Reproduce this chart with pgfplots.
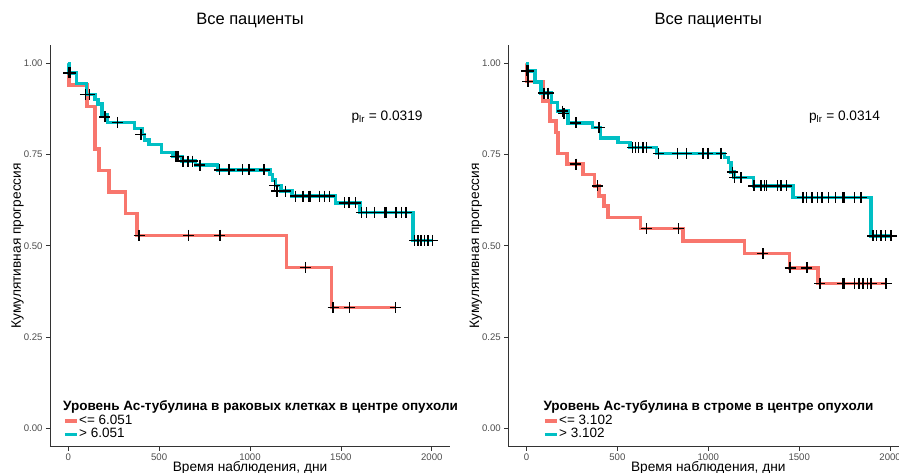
\documentclass[border=0pt]{standalone}
\usepackage{fontspec}
\setmainfont{Liberation Sans}
\usepackage{pgfplots}
\pgfplotsset{compat=1.18}

\definecolor{kmred}{HTML}{F8766D}
\definecolor{kmcyan}{HTML}{00BFC4}
\definecolor{tickgray}{HTML}{4D4D4D}
\definecolor{axgray}{HTML}{333333}

\pgfplotsset{
  km/.style={
    scale only axis, width=400pt, height=401.7pt,
    anchor=south west,
    xmin=-100, xmax=2100, ymin=-0.05, ymax=1.05,
    axis x line*=bottom, axis y line*=left,
    axis line style={axgray, line width=0.8pt, -},
    tick align=outside, major tick length=4pt,
    tick style={axgray, line width=0.8pt},
    xtick={0,500,1000,1500,2000},
    ytick={0,0.25,0.5,0.75,1},
    yticklabels={0.00,0.25,0.50,0.75,1.00},
    /pgf/number format/1000 sep={},
    /pgf/number format/assume math mode=true,
    ticklabel style={font=\fontsize{9.6}{10}\selectfont, text=tickgray},
    every axis title shift=0pt,
    title style={font=\fontsize{16.5}{18}\selectfont, at={(axis description cs:0.5,1.062)}, anchor=center},
    xlabel style={font=\fontsize{13.7}{15}\selectfont, at={(axis description cs:0.5,-0.054)}, anchor=center},
    ylabel style={font=\fontsize{13.7}{15}\selectfont, at={(axis description cs:-0.081,0.5)}, anchor=center},
    legend cell align=left,
    legend image code/.code={\draw[#1, line width=3.6pt] (0pt,0pt) -- (12pt,0pt);},
    clip=false,
  },
  kmline/.style={const plot, line width=3.5pt},
  cens/.style={only marks, mark=+, mark size=5.5pt, black, mark options={line width=1.5pt}, forget plot},
  kmleg/.style={legend style={draw=none, fill=none, inner sep=0pt, outer sep=0pt, row sep=0pt,
    at={(axis description cs:#1,0.082)}, anchor=north west,
    font=\fontsize{13.5}{14}\selectfont,
    nodes={inner sep=0.6pt, text height=9.7pt, text depth=3pt}}},
}

\begin{document}
\begin{tikzpicture}
\path[use as bounding box] (0,0) rectangle (899pt,472pt);
\clip (0,0) rectangle (899pt,472pt);

% left panel: tumour cells
\begin{axis}[km, kmleg=0.0325, at={(50pt,25.3pt)},
  title={Все пациенты},
  xlabel={Время наблюдения, дни},
  ylabel={Кумулятивная прогрессия}]
\addplot[kmline, kmred] coordinates {
 (0,1.0) (5,0.941) (104,0.882) (147,0.765) (169,0.706) (225,0.647)
 (315,0.588) (379,0.529) (1200,0.441) (1447,0.331) (1800,0.331)};
\addlegendentry{<= 6.051}
\addplot[kmline, kmcyan] coordinates {
 (0,1.0) (5,0.974) (46,0.944) (100,0.915) (147,0.901) (165,0.889)
 (185,0.860) (215,0.838) (366,0.822) (405,0.805) (420,0.790) (445,0.778)
 (513,0.755) (577,0.744) (625,0.732) (700,0.721) (820,0.708) (1110,0.695)
 (1125,0.680) (1140,0.665) (1170,0.650) (1230,0.636) (1471,0.618)
 (1604,0.592) (1896,0.515) (2005,0.515)};
\addlegendentry{> 6.051}
\addplot[cens] coordinates {
 (390,0.529) (663,0.529) (834,0.529) (1304,0.441) (1457,0.331) (1548,0.331) (1800,0.331)};
\addplot[cens] coordinates {
 (2,0.974) (8,0.974) (14,0.974) (95,0.915) (117,0.915) (202,0.853) (271,0.838)
 (400,0.805) (592,0.744) (605,0.744) (632,0.732) (659,0.732) (683,0.732)
 (724,0.721) (833,0.708) (885,0.708) (958,0.708) (995,0.708) (1077,0.708)
 (1135,0.665) (1148,0.650) (1195,0.650)
 (1251,0.636) (1291,0.636) (1324,0.636) (1333,0.636) (1383,0.636) (1410,0.636) (1438,0.636)
 (1520,0.618) (1544,0.618) (1581,0.618)
 (1612,0.592) (1640,0.592) (1686,0.592) (1740,0.592) (1749,0.592) (1804,0.592) (1832,0.592) (1859,0.592)
 (1905,0.515) (1923,0.515) (1941,0.515) (1960,0.515) (1978,0.515) (2005,0.515)};
\node[font=\fontsize{13.7}{15}\selectfont] at (axis cs:1754,0.852) {p\textsubscript{lr} = 0.0319};
\end{axis}

% right panel: stroma
\begin{axis}[km, kmleg=0.0868, at={(508.3pt,25.3pt)},
  title={Все пациенты},
  xlabel={Время наблюдения, дни},
  ylabel={Кумулятивная прогрессия}]
\addplot[kmline, kmred] coordinates {
 (0,1.0) (4,0.950) (91,0.897) (128,0.842) (161,0.810) (174,0.753) (223,0.724)
 (311,0.696) (375,0.664) (400,0.636) (425,0.609) (448,0.577) (626,0.547)
 (860,0.513) (1199,0.479) (1447,0.440) (1602,0.397) (1978,0.397)};
\addlegendentry{<= 3.102}
\addplot[kmline, kmcyan] coordinates {
 (0,1.0) (5,0.979) (46,0.949) (80,0.918) (137,0.892) (170,0.869) (229,0.837)
 (362,0.824) (407,0.796) (503,0.783) (568,0.769) (714,0.753) (1090,0.742)
 (1110,0.728) (1125,0.702) (1140,0.687) (1249,0.664) (1465,0.632)
 (1896,0.527) (2005,0.527)};
\addlegendentry{> 3.102}
\addplot[cens] coordinates {
 (8,0.950) (271,0.724) (390,0.664) (659,0.547) (835,0.547) (1300,0.479) (1450,0.440)
 (1542,0.440) (1614,0.397) (1740,0.397) (1749,0.397) (1804,0.397) (1830,0.397)
 (1850,0.397) (1875,0.397) (1895,0.397) (1978,0.397)};
\addplot[cens] coordinates {
 (2,0.979) (6,0.979) (10,0.979) (95,0.918) (119,0.918) (198,0.869) (205,0.862)
 (271,0.837) (399,0.824) (582,0.769) (600,0.769) (615,0.769) (640,0.769) (660,0.769)
 (725,0.753) (830,0.753) (879,0.753) (971,0.753) (998,0.753) (1071,0.753)
 (1132,0.702) (1145,0.687) (1181,0.687)
 (1250,0.664) (1290,0.664) (1310,0.664) (1320,0.664) (1380,0.664) (1400,0.664) (1430,0.664)
 (1520,0.632) (1540,0.632) (1570,0.632) (1600,0.632) (1625,0.632) (1660,0.632)
 (1700,0.632) (1740,0.632) (1750,0.632) (1805,0.632) (1841,0.632)
 (1905,0.527) (1925,0.527) (1950,0.527) (1975,0.527) (2005,0.527)};
\node[font=\fontsize{13.7}{15}\selectfont] at (axis cs:1749,0.852) {p\textsubscript{lr} = 0.0314};
\end{axis}

% legend titles
\node[anchor=base west, inner sep=0pt, font=\bfseries\fontsize{13.5}{15}\selectfont]
  at (63pt,61.4pt) {Уровень Ас-тубулина в раковых клетках в центре опухоли};
\node[anchor=base west, inner sep=0pt, font=\bfseries\fontsize{13.5}{15}\selectfont]
  at (543.3pt,61.4pt) {Уровень Ас-тубулина в строме в центре опухоли};
\end{tikzpicture}
\end{document}
